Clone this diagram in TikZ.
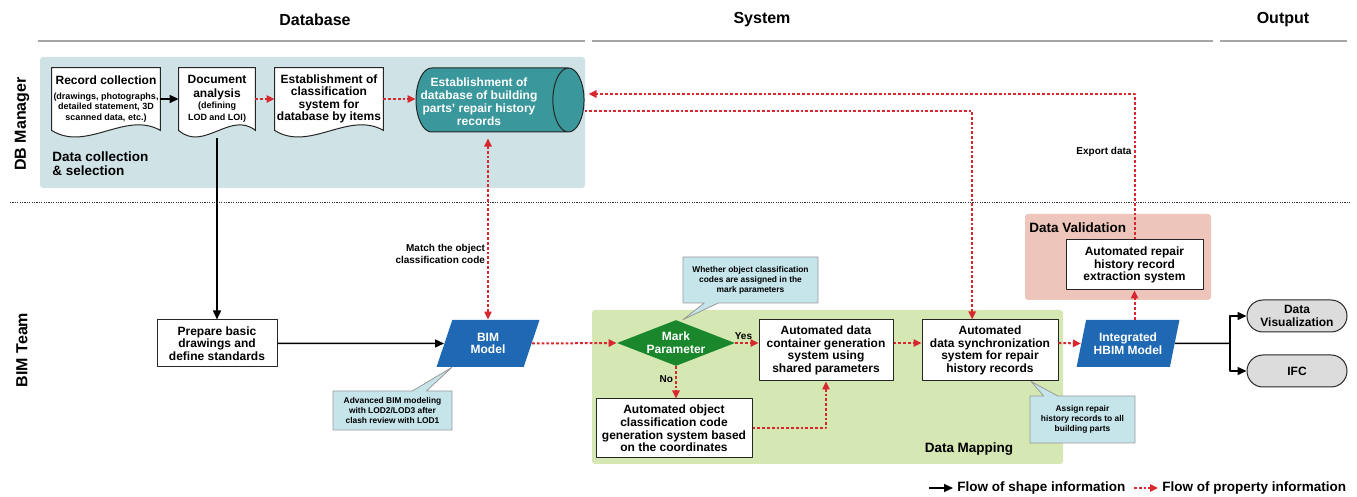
\documentclass[tikz,border=0pt]{standalone}
\usepackage{fontspec}
\setmainfont{Liberation Sans}
\usetikzlibrary{arrows.meta,calc,positioning,backgrounds,shapes.geometric,shapes.callouts}

\definecolor{dbpanel}{HTML}{CFE2E6}
\definecolor{mappanel}{HTML}{D5E7B2}
\definecolor{valpanel}{HTML}{EDC5BA}
\definecolor{cylteal}{HTML}{3A979C}
\definecolor{bimblue}{HTML}{1F68B3}
\definecolor{markgreen}{HTML}{1B872D}
\definecolor{notefill}{HTML}{C5E5EB}
\definecolor{propred}{HTML}{D7282F}
\definecolor{outgray}{HTML}{DCDCDC}

\newcommand{\txtbox}{\fontsize{6}{6.3}\selectfont\bfseries}
\newcommand{\txtsub}{\fontsize{4.5}{5.2}\selectfont\bfseries}
\newcommand{\txtnote}{\fontsize{4.2}{5}\selectfont\bfseries}
\newcommand{\txthead}{\fontsize{8}{9}\selectfont\bfseries}
\newcommand{\txtpanel}{\fontsize{6.75}{7.2}\selectfont\bfseries}
\newcommand{\txtlabel}{\fontsize{5}{5.8}\selectfont\bfseries}

%% document outline under a node
\newcommand{\docshape}[2]{%
  \draw[draw=black!85, fill=white, line width=0.5pt]
  (#1.north west) -- (#1.north east) -- (#1.south east)
  .. controls +(-#2,-20) and +(#2,22) .. (#1.south west) -- cycle;}

\tikzset{
  box/.style={draw=black!85, fill=white, line width=0.5pt, align=center, inner sep=0pt, font=\txtbox},
  docbox/.style={align=center, inner sep=0pt, font=\txtbox, minimum height=31pt},
  dbcyl/.style={cylinder, aspect=0.6, draw=black!85, fill=cylteal, text=white, line width=0.5pt, inner sep=0pt, font=\txtbox},
  modelbox/.style={trapezium, trapezium left angle=70, trapezium right angle=110, trapezium stretches=true, fill=bimblue, text=white, align=center, inner sep=0pt, font=\txtbox, minimum width=51.5pt, minimum height=23.5pt},
  decision/.style={diamond, aspect=2.6, fill=markgreen, text=white, align=center, inner sep=0pt, font=\txtbox, minimum width=59pt, minimum height=23pt},
  outbox/.style={draw=black!85, fill=outgray, rounded corners=8pt, line width=0.5pt, align=center, inner sep=0pt, font=\txtbox, minimum width=50pt, minimum height=16pt},
  note/.style={rectangle callout, fill=notefill, draw=black!40, line width=0.4pt, align=center, inner sep=0pt, font=\txtnote, callout pointer width=7pt},
  shapeflow/.style={line width=0.75pt, -{Triangle[length=4.5pt,width=4pt]}},
  propflow/.style={propred, line width=1pt, dash pattern=on 1.4pt off 1pt, -{Triangle[length=4pt,width=3.6pt]}},
  hdrline/.style={black!35, line width=0.6pt},
  sepline/.style={black!80, line width=0.4pt, dash pattern=on 0.6pt off 0.6pt},
  lbl/.style={font=\txtlabel, text=black, inner sep=1pt},
}

\begin{document}
\begin{tikzpicture}[x=0.5pt, y=-0.5pt, line join=round]
\useasboundingbox (0,0) rectangle (1357,497);

%% panels
\begin{scope}[on background layer]
\fill[dbpanel, rounded corners=1.5pt] (40,57) rectangle (585,188);
\fill[mappanel, rounded corners=1.5pt] (592,310) rectangle (1063,464);
\fill[valpanel, rounded corners=1.5pt] (1025,214) rectangle (1211,300);
\end{scope}

%% headers and lanes
\node[font=\txthead] (hdb) at (315,20) {Database};
\node[font=\txthead] (hsys) at (762,20) {System};
\node[font=\txthead] (hout) at (1283,20) {Output};
\foreach \a/\b in {38/585,592/1213,1220/1347}
\draw[hdrline] (\a,41) -- (\b,41);
\draw[sepline] (10,202) -- (1350,202);
\node[font=\txthead, rotate=90] (ldb) at (22,124) {DB Manager};
\node[font=\txthead, rotate=90] (lbim) at (22,350) {BIM Team};

%% points
\path
(106,99) coordinate (R)
(217,99) coordinate (A)
(329,99) coordinate (C)
(492,100) coordinate (D)
(217,343.5) coordinate (P)
(488,343.5) coordinate (B)
(676,343) coordinate (M)
(826,350.5) coordinate (G)
(674,428.5) coordinate (O)
(990,350.5) coordinate (S)
(1128,343.5) coordinate (H)
(1134.5,265) coordinate (E)
(1297,316) coordinate (V)
(1297,371) coordinate (F)
(1230,343.5) coordinate (split)
;

%% DB manager
\node[docbox, minimum width=54pt] (rec) at (R) {Record collection\\[1pt]\txtsub (drawings, photographs,\\[-1pt]\txtsub detailed statement, 3D\\[-1pt]\txtsub scanned data, etc.)};
\node[docbox, minimum width=38pt] (docana) at (A) {Document\\[0.4pt]analysis\\[-0.5pt]\txtsub (defining\\[-0.5pt]\txtsub LOD and LOI)};
\node[docbox, minimum width=54pt] (classif) at (C) {Establishment of\\classification\\system for\\database by items};
\node[dbcyl, minimum width=32pt, minimum height=84pt] (db) at (D) {\renewcommand{\arraystretch}{1.03}\hspace*{-6.5pt}\raisebox{-1.6pt}[\height][\depth]{\begin{tabular}{@{}c@{}}Establishment of\\database of building\\parts' repair history\\records\end{tabular}}\hspace*{6.5pt}};
\node[font=\txtpanel, anchor=north west, align=left, inner sep=0pt] (lcol) at (52,151) {Data collection\\\& selection};

%% BIM team
\node[box, minimum width=60pt, minimum height=23.5pt] (prep) at (P) {Prepare basic\\drawings and\\define standards};
\node[modelbox] (bim) at (B) {BIM\\Model};
\node[decision] (mark) at (M) {Mark\\Parameter};
\node[box, minimum width=67pt, minimum height=30.5pt] (cont) at (G) {Automated data\\container generation\\system using\\shared parameters};
\node[box, minimum width=78pt, minimum height=29.5pt] (objc) at (O) {Automated object\\classification code\\generation system based\\on the coordinates};
\node[box, minimum width=68pt, minimum height=30.5pt] (sync) at (S) {Automated\\data synchronization\\system for repair\\history records};
\node[modelbox] (hbim) at (H) {Integrated\\HBIM Model};
\node[box, minimum width=68.5pt, minimum height=25pt] (extr) at (E) {Automated repair\\history record\\extraction system};
\node[outbox] (vis) at (V) {Data\\Visualization};
\node[outbox] (ifc) at (F) {IFC};
\node[font=\txtpanel] (lmap) at (969,449) {Data Mapping};
\node[font=\txtpanel, anchor=west, inner sep=0pt] (lval) at (1029,228) {Data Validation};

%% notes
\node[note, minimum width=59.5pt, minimum height=19.5pt, callout absolute pointer={($(bim.bottom left corner)!0.18!(bim.bottom right corner)$)}] (nbim) at (392.5,410.5) {Advanced BIM modeling\\with LOD2/LOD3 after\\clash review with LOD1};
\node[note, minimum width=67.5pt, minimum height=23pt, callout absolute pointer={($(mark.north)+(7,0)$)}] (nmark) at (750.5,280) {Whether object classification\\codes are assigned in the\\mark parameters};
\node[note, minimum width=52.5pt, minimum height=23.5pt, callout absolute pointer={($(sync.south)!0.6!(sync.south east)$)}] (nsync) at (1082.5,419.5) {Assign repair\\history records to all\\building parts};

%% document outlines
\begin{scope}[on background layer]
\docshape{rec}{35}
\docshape{docana}{25}
\docshape{classif}{35}
\end{scope}

%% connectors
\coordinate (dbout) at ($(db.east)+(0,11)$);
\coordinate (dbin) at ($(db.east)+(4,-6)$);
\coordinate (syncin) at ($(sync.north west)!0.37!(sync.north east)$);
\draw[shapeflow] (rec.east) -- (docana.west);
\draw[propflow] (docana.east) -- (classif.west);
\draw[propflow] (classif.east) -- (classif.east -| db.west);
\draw[shapeflow] ($(docana.south)+(0,8)$) -- (prep.north);
\draw[shapeflow] (prep.east) -- (bim.west);
\draw[propflow, {Triangle[length=4pt,width=3.6pt]}-{Triangle[length=4pt,width=3.6pt]}, shorten <=3pt] (bim.north |- db.south) -- node[pos=0.65, left, lbl, align=right] (match) {Match the object\\classification code} (bim.north);
\draw[propflow] (bim.east) -- (mark.west);
\draw[propflow] (mark.east) -- node[pos=0.35, above, lbl] (yes) {Yes} (mark.east -| cont.west);
\draw[propflow] (mark.south) -- node[pos=0.4, left, lbl] (no) {No} (mark.south |- objc.north);
\draw[propflow] (objc.east) -| (cont.south);
\draw[propflow] (cont.east |- M) -- (sync.west |- M);
\draw[propflow] (dbout) -| (syncin);
\draw[propflow] (sync.east |- M) -- (hbim.west);
\draw[propflow] (extr.south |- hbim.north) -- (extr.south);
\draw[propflow] (extr.north) |- node[pos=0.3, left, lbl] (export) {Export data} (dbin);
\draw[shapeflow, -] (hbim.east) -- (split);
\draw[shapeflow] (split) |- (vis.west);
\draw[shapeflow] (split) |- (ifc.west);

%% legend
\node[font=\txtpanel, anchor=west, inner sep=0pt] (lgshape) at (957,488) {Flow of shape information};
\node[font=\txtpanel, anchor=west, inner sep=0pt] (lgprop) at (1162,488) {Flow of property information};
\draw[shapeflow] ([xshift=-14pt]lgshape.west) -- ([xshift=-2pt]lgshape.west);
\draw[propflow] ([xshift=-14pt]lgprop.west) -- ([xshift=-2pt]lgprop.west);
\end{tikzpicture}
\end{document}
